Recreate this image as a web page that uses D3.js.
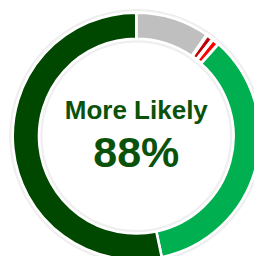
<!DOCTYPE html>
<html><head><meta charset="utf-8">
<script src="https://cdn.jsdelivr.net/npm/d3@7"></script>
<style>html,body{margin:0;padding:0;background:#fff;}svg{display:block;}</style>
</head><body>
<svg id="c" width="254" height="256"></svg>
<script>
const categories = ["No difference", "Much less likely", "Somewhat less likely", "Somewhat more likely", "Much more likely"];
const values = [9.7, 0.95, 0.95, 35.1, 53.3];
const colors = ["#bfbfbf", "#c00000", "#ff0000", "#00b050", "#004700"];
const labelText = "More Likely";
const valueText = "88%";

const svg = d3.select("#c");
const cx = 136.3, cy = 136.2;
const rOuter = 123.6, rInner = 97.3;
const g = svg.append("g").attr("transform", `translate(${cx},${cy})`);

// light background ring
g.append("path")
  .attr("d", d3.arc().innerRadius(93.8).outerRadius(127.2).startAngle(0).endAngle(2*Math.PI)())
  .attr("fill", "#efefef");

const pie = d3.pie().sort(null).value(d => d);
const arc = d3.arc().innerRadius(rInner).outerRadius(rOuter);
g.selectAll("path.seg").data(pie(values)).enter().append("path")
  .attr("class", "seg")
  .attr("d", arc)
  .attr("fill", (d, i) => colors[i])
  .attr("stroke", "#fff")
  .attr("stroke-width", (d, i) => (i === 1 || i === 2) ? 3.6 : 2.6)
  .attr("stroke-linejoin", "miter");

g.append("text").attr("x", 0).attr("y", 119 - cy)
  .attr("text-anchor", "middle")
  .attr("font-family", "Liberation Sans, Arial, sans-serif")
  .attr("font-weight", "bold").attr("font-size", 26)
  .attr("fill", "#0a520a").text(labelText);
g.append("text").attr("x", 0).attr("y", 167 - cy)
  .attr("text-anchor", "middle")
  .attr("font-family", "Liberation Sans, Arial, sans-serif")
  .attr("font-weight", "bold").attr("font-size", 43)
  .attr("fill", "#0a520a").text(valueText);
</script>
</body></html>
